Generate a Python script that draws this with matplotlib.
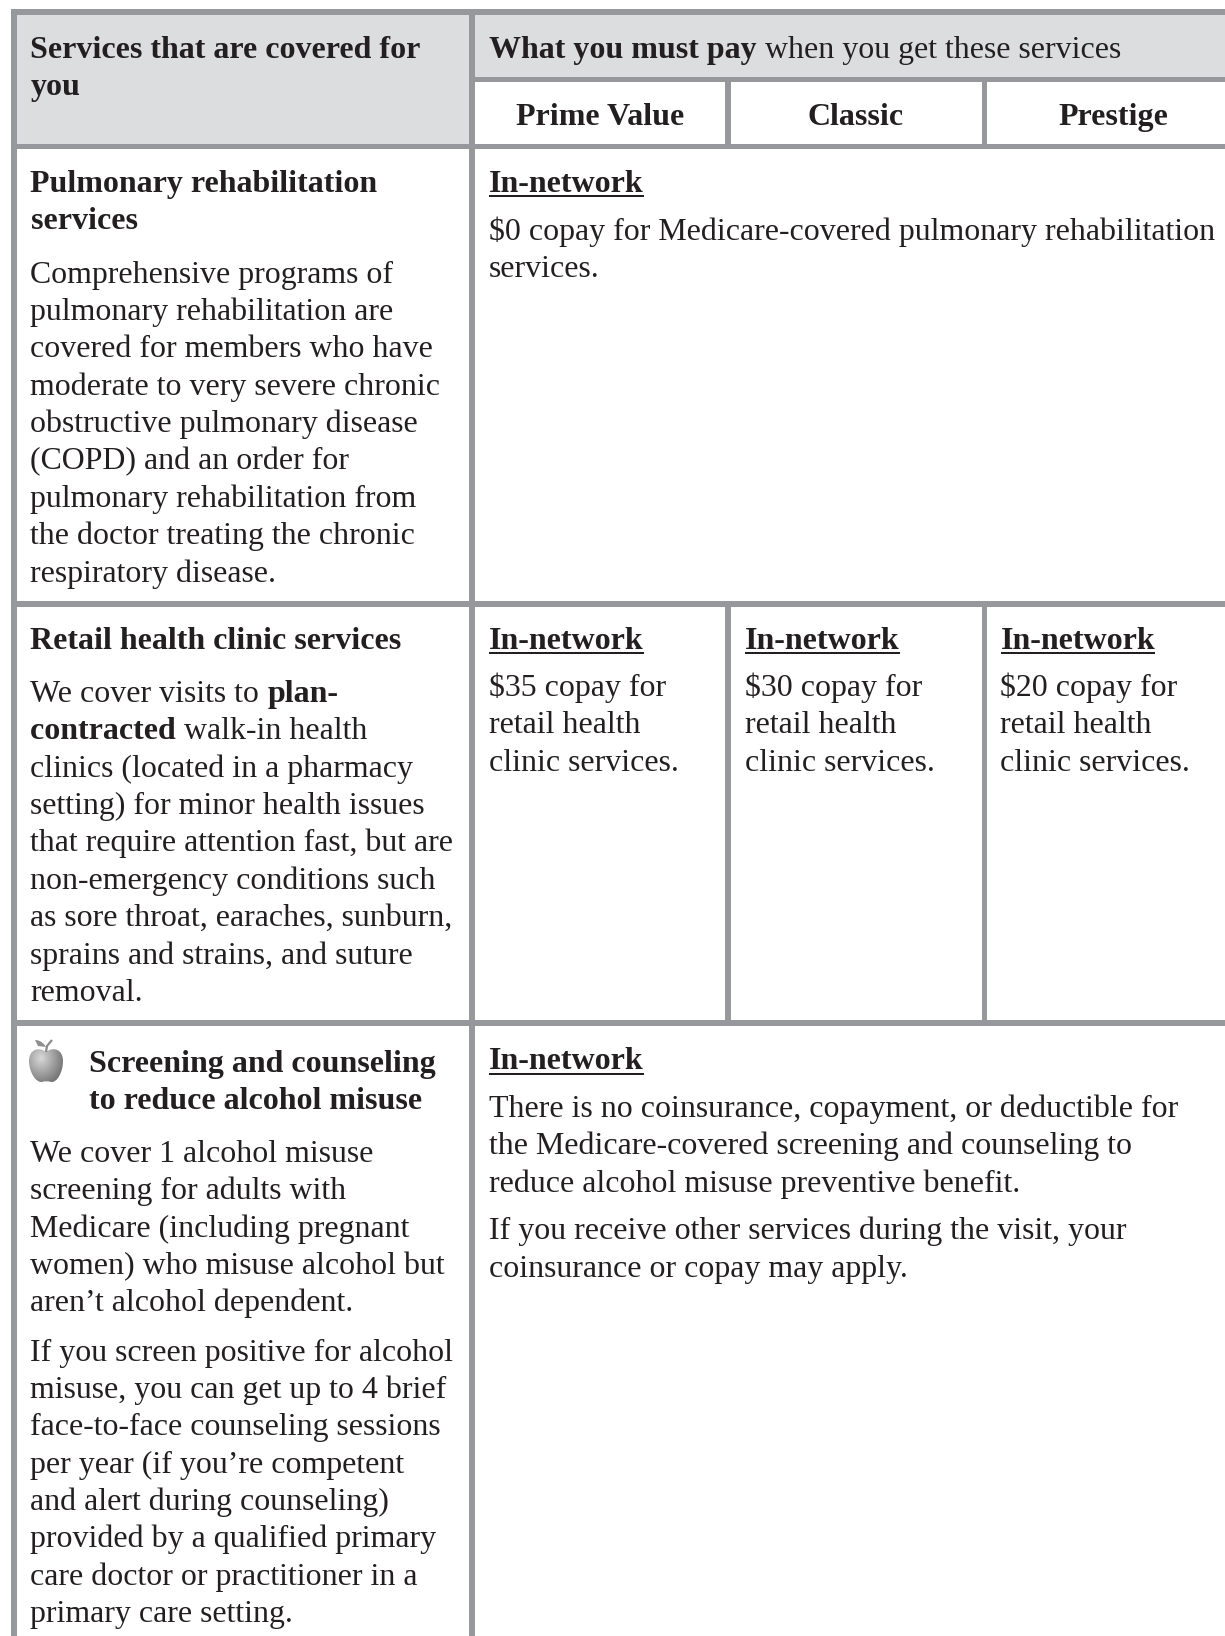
import numpy as np
import matplotlib
matplotlib.use("Agg")
import matplotlib.pyplot as plt
from matplotlib.patches import Rectangle, PathPatch
from matplotlib.path import Path

W, H = 1225, 1636
LINE = "#97989b"
HEAD = "#dcddde"
INK = "#231f20"
BODY_SIZE = 22.97
BOLD_SIZE = 23.0
LEAD = 37.4
TEXT_DY = 0.9

header_left = ["Services that are covered for", "you"]
plans = ["Prime Value", "Classic", "Prestige"]
pulm_title = ["Pulmonary rehabilitation", "services"]
pulm_body = ["Comprehensive programs of", "pulmonary rehabilitation are", "covered for members who have",
             "moderate to very severe chronic", "obstructive pulmonary disease", "(COPD) and an order for",
             "pulmonary rehabilitation from", "the doctor treating the chronic", "respiratory disease."]
pulm_right = ["$0 copay for Medicare-covered pulmonary rehabilitation", "services."]
retail_title = "Retail health clinic services"
retail_body = ["clinics (located in a pharmacy", "setting) for minor health issues",
               "that require attention fast, but are", "non-emergency conditions such",
               "as sore throat, earaches, sunburn,", "sprains and strains, and suture", "removal."]
copays = ["$35", "$30", "$20"]
screen_title = ["Screening and counseling", "to reduce alcohol misuse"]
screen_p1 = ["We cover 1 alcohol misuse", "screening for adults with", "Medicare (including pregnant",
             "women) who misuse alcohol but", "aren’t alcohol dependent."]
screen_p2 = ["If you screen positive for alcohol", "misuse, you can get up to 4 brief",
             "face-to-face counseling sessions", "per year (if you’re competent",
             "and alert during counseling)", "provided by a qualified primary",
             "care doctor or practitioner in a", "primary care setting."]
screen_r1 = ["There is no coinsurance, copayment, or deductible for", "the Medicare-covered screening and counseling to",
             "reduce alcohol misuse preventive benefit."]
screen_r2 = ["If you receive other services during the visit, your", "coinsurance or copay may apply."]

plt.rcParams['font.family'] = ['Liberation Serif']
fig = plt.figure(figsize=(W / 100, H / 100), dpi=100)
ax = fig.add_axes([0, 0, 1, 1])
ax.set_xlim(0, W)
ax.set_ylim(H, 0)
ax.axis("off")


def box(x0, y0, x1, y1, color):
    ax.add_patch(Rectangle((x0, y0), x1 - x0, y1 - y0, fc=color, ec="none", zorder=1))


def txt(x, y, s, bold=False, ha="left"):
    return ax.text(x, y + TEXT_DY, s, ha=ha, va="baseline", color=INK, zorder=3,
                   fontsize=BOLD_SIZE if bold else BODY_SIZE, fontweight="bold" if bold else "normal")


def runs(x, y, parts):
    # mixed bold and regular on one line
    r = fig.canvas.get_renderer()
    for s, b in parts:
        t = txt(x, y, s, b)
        x = ax.transData.inverted().transform(t.get_window_extent(r))[1, 0]


def para(x, y, lines, bold=False):
    for i, s in enumerate(lines):
        txt(x, y + i * LEAD, s, bold)


def in_network(x, y):
    t = txt(x, y, "In-network", True)
    bb = t.get_window_extent(fig.canvas.get_renderer())
    x1 = ax.transData.inverted().transform(bb)[1, 0]
    box(x, y + 4, x1, y + 6, INK)


# header fills
box(11, 9, W, 149, HEAD)
box(474, 82, W, 144, "white")

# grid lines
box(11, 9, W, 15, LINE)
box(11, 9, 16.5, H, LINE)
box(469, 9, 474.5, H, LINE)
box(474, 77, W, 82, LINE)
box(11, 144, W, 149, LINE)
box(11, 601, W, 607, LINE)
box(11, 1020, W, 1026, LINE)
box(725, 77, 730.5, 149, LINE)
box(982, 77, 987, 149, LINE)
box(725, 601, 730.5, 1026, LINE)
box(982, 601, 987, 1026, LINE)

# header text
para(30.5, 57, header_left, True)
runs(489, 57, [("What you must pay ", True), ("when you get these services", False)])
for cx, p in zip([600.5, 856, 1113], plans):
    txt(cx, 124, p, True, ha="center")

# pulmonary row
para(30.5, 190.7, pulm_title, True)
para(30.5, 281.7, pulm_body)
in_network(489, 190.7)
para(489, 238.7, pulm_right)

# retail row
txt(30.5, 648.3, retail_title, True)
runs(30.5, 701, [("We cover visits to ", False), ("plan-", True)])
runs(30.5, 701 + LEAD, [("contracted ", True), ("walk-in health", False)])
para(30.5, 701 + 2 * LEAD, retail_body)
for x, c in zip([489, 745, 1000.5], copays):
    in_network(x, 648.3)
    para(x, 695, [c + " copay for", "retail health", "clinic services."])

# screening row
para(89, 1070.7, screen_title, True)
para(30.5, 1161, screen_p1)
para(30.5, 1359.6, screen_p2)
in_network(489, 1068.5)
para(489, 1116, screen_r1)
para(489, 1238.5, screen_r2)

# apple icon
apple = Path([(46, 1052), (38, 1046), (29, 1050), (29, 1061), (29, 1072), (36, 1083), (42, 1082),
              (45, 1081), (48, 1081), (51, 1082), (57, 1083), (63, 1072), (63, 1061),
              (63, 1050), (54, 1046), (46, 1052), (46, 1052)],
             [Path.MOVETO] + [Path.CURVE4] * 15 + [Path.CLOSEPOLY])
yy, xx = np.mgrid[1044:1084:80j, 28:64:72j]
shade = np.hypot((xx - 41) / 24, (yy - 1058) / 28)
im = ax.imshow(shade, extent=(28, 64, 1084, 1044), cmap="gray_r", vmin=-0.375, vmax=2.125, zorder=2, aspect="auto")
im.set_clip_path(PathPatch(apple, transform=ax.transData))
ax.add_patch(PathPatch(Path([(46, 1052), (47, 1046), (52, 1040)]), fc="none", ec="#8a8a8a", lw=1.6, zorder=2))
ax.add_patch(PathPatch(Path([(46, 1047), (42, 1040), (36, 1040), (35, 1040), (38, 1046), (46, 1047), (46, 1047)],
                            [Path.MOVETO] + [Path.CURVE4] * 3 + [Path.LINETO, Path.LINETO, Path.CLOSEPOLY]),
                       fc="#8f8f8f", ec="none", zorder=2))
ax.set_xlim(0, W)
ax.set_ylim(H, 0)

fig.savefig("out.png", dpi=100)
